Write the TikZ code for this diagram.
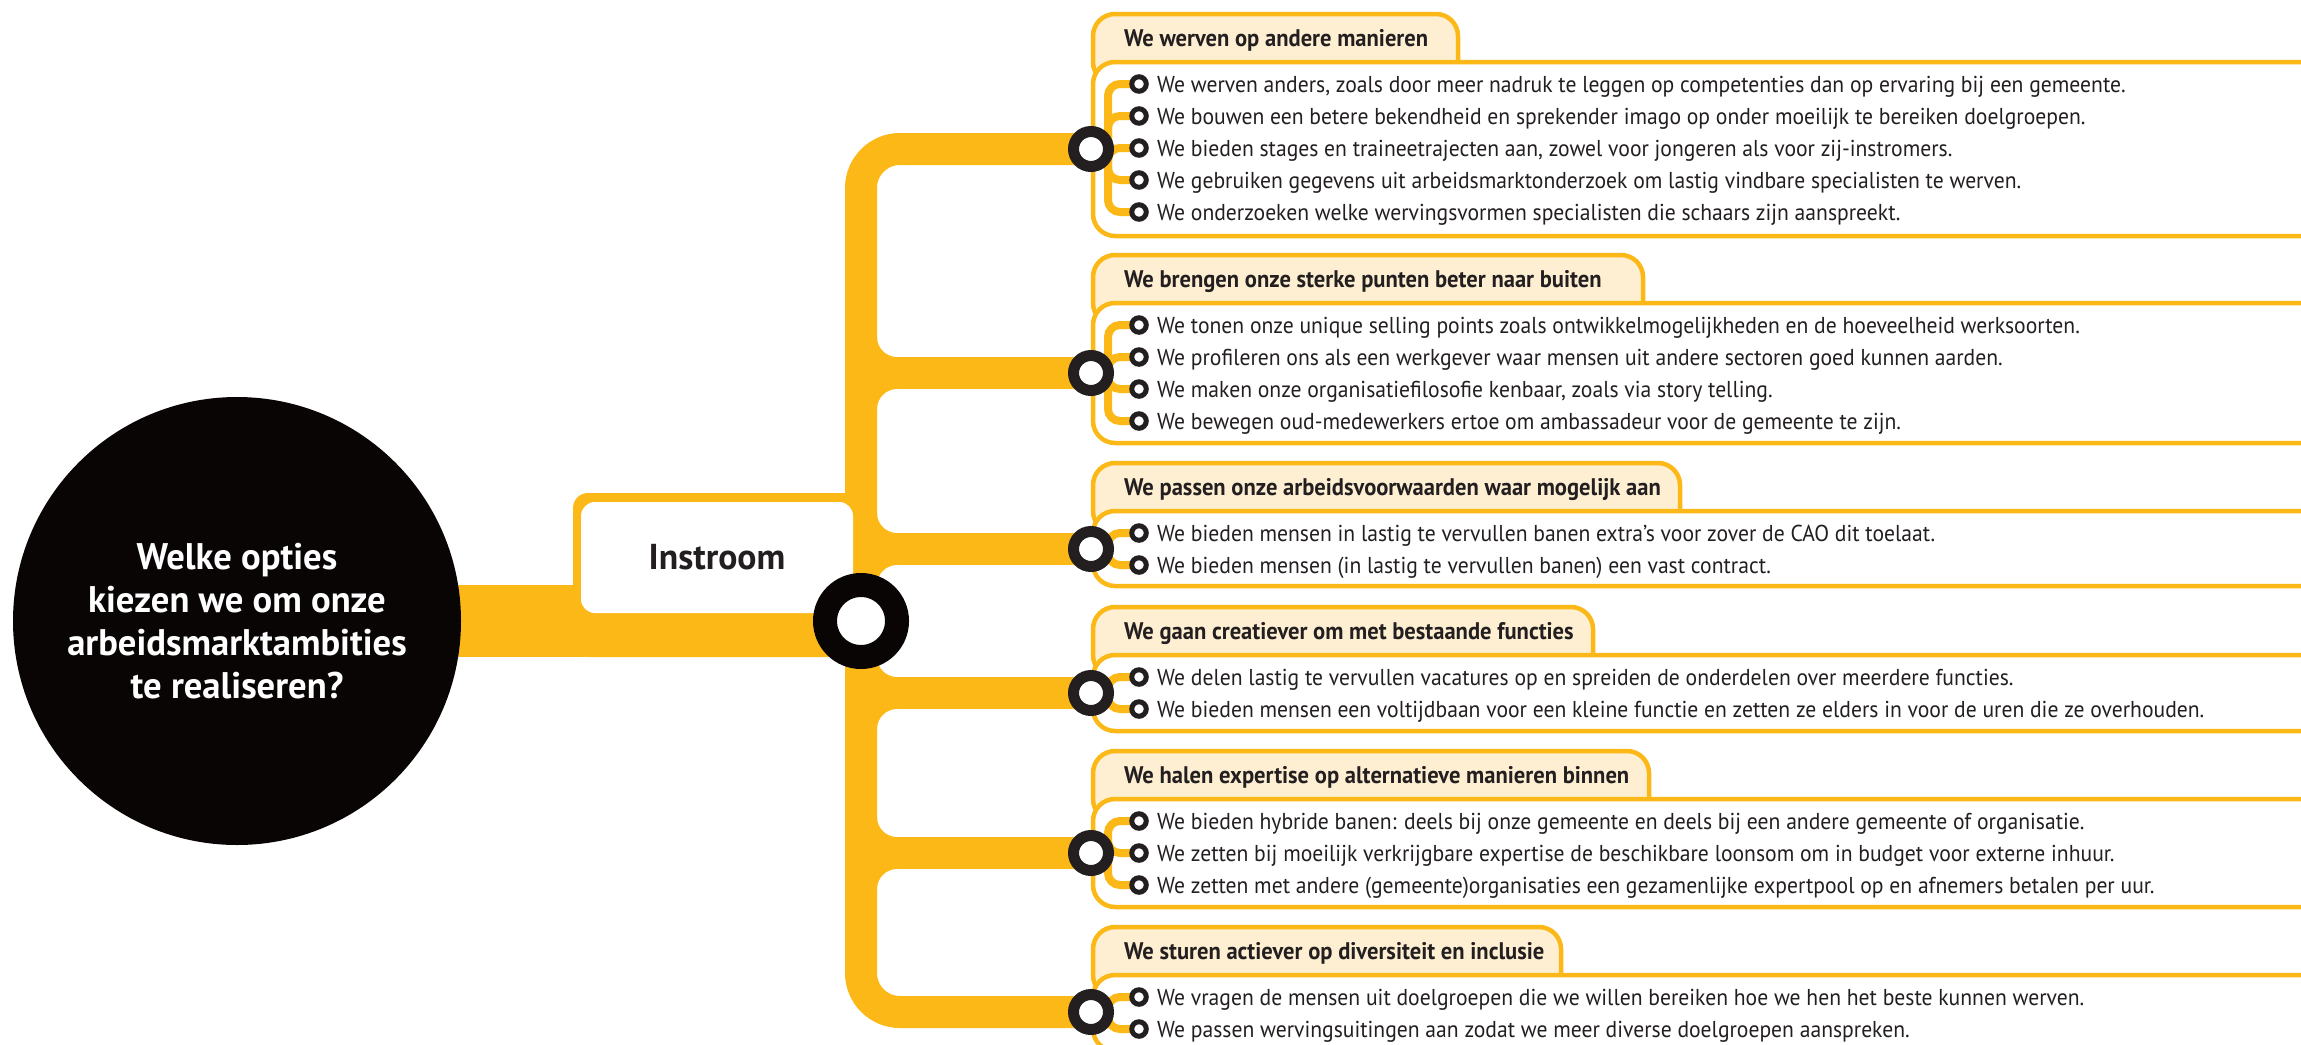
\documentclass[tikz,border=0pt]{standalone}
\usepackage{fontspec}
\setmainfont[FakeStretch=0.94]{PT Sans}
\newfontfamily\widefont[FakeStretch=0.99]{PT Sans}
\definecolor{ylw}{HTML}{FBB817}
\definecolor{crm}{HTML}{FEEFD2}
\definecolor{ink}{HTML}{231F20}
\definecolor{blk}{HTML}{0A0505}
\pgfdeclarelayer{l1}\pgfdeclarelayer{l2}\pgfdeclarelayer{l3}
\pgfsetlayers{l1,l2,l3,main}
\tikzset{
 trunk/.style={line width=32pt, draw=ylw},
 bracket/.style={line width=8pt, draw=ylw},
 ring/.style={circle, draw=ink, fill=white, line width=11pt, minimum size=35pt, inner sep=0pt},
 hubring/.style={circle, draw=blk, fill=white, line width=24pt, minimum size=72pt, inner sep=0pt},
 bullet/.style={circle, draw=ink, fill=white, line width=5pt, minimum size=14.5pt, inner sep=0pt},
 tabbox/.style={draw=ylw, fill=crm, line width=4.5pt, rounded corners=22pt},
 bodybox/.style={draw=ylw, fill=white, line width=4.5pt, rounded corners=22pt},
 rowtext/.style={anchor=base west, font=\fontsize{23}{27}\selectfont, text=ink, inner sep=0pt},
 headtext/.style={anchor=base west, font=\bfseries\fontsize{24}{28}\selectfont, text=ink, inner sep=0pt},
}
% #1 id, #2 tab top, #3 tab right, #4 body bottom, #5 node y, #6 header, #7 rows
\newcommand\grp[7]{%
 \begin{pgfonlayer}{l2}
  \draw[tabbox] (1093,#2) rectangle (#3,#2+70);
  \draw[bodybox] (1093,#2+48) rectangle (2340,#4);
 \end{pgfonlayer}
 \node[headtext] (h#1) at (1124,#2+32) {#6};
 \node[ring] (n#1) at (1091,#5) {};
 \coordinate (v#1) at (1108,#5);
 \foreach \t [count=\i] in {#7} {
   \pgfmathsetmacro\ry{#2+70+(\i-1)*32}
   \node[bullet] (b#1-\i) at (1139,\ry) {};
   \node[rowtext] (t#1-\i) at (1157,\ry+8) {\t};
   \begin{pgfonlayer}{l3}
     \draw[bracket, rounded corners=12pt] (v#1) |- (b#1-\i.center);
   \end{pgfonlayer}
 }
}
\newcommand\fil[1]{%
 \fill[ylw] (877,#1-36) -- (877,#1-16) -- (897,#1-16) arc[start angle=90, end angle=180, radius=20] -- cycle;
 \fill[ylw] (877,#1+36) -- (877,#1+16) -- (897,#1+16) arc[start angle=270, end angle=180, radius=20] -- cycle;
}
\begin{document}
\begin{tikzpicture}[x=1pt,y=-1pt]
\useasboundingbox (0,0) rectangle (2301,1044);
\clip (0,0) rectangle (2301,1044);

\grp{1}{14}{1458}{236}{149}{We werven op andere manieren}{%
 {We werven anders, zoals door meer nadruk te leggen op competenties dan op ervaring bij een gemeente.},
 {We bouwen een betere bekendheid en sprekender imago op onder moeilijk te bereiken doelgroepen.},
 {We bieden stages en traineetrajecten aan, zowel voor jongeren als voor zij-instromers.},
 {We gebruiken gegevens uit arbeidsmarktonderzoek om lastig vindbare specialisten te werven.},
 {We onderzoeken welke wervingsvormen specialisten die schaars zijn aanspreekt.}}
\grp{2}{255}{1643}{443}{373}{We brengen onze sterke punten beter naar buiten}{%
 {We tonen onze unique selling points zoals ontwikkelmogelijkheden en de hoeveelheid werksoorten.},
 {We profileren ons als een werkgever waar mensen uit andere sectoren goed kunnen aarden.},
 {We maken onze organisatiefilosofie kenbaar, zoals via story telling.},
 {We bewegen oud-medewerkers ertoe om ambassadeur voor de gemeente te zijn.}}
\grp{3}{463}{1680}{586}{549}{We passen onze arbeidsvoorwaarden waar mogelijk aan}{%
 {We bieden mensen in lastig te vervullen banen extra’s voor zover de CAO dit toelaat.},
 {We bieden mensen (in lastig te vervullen banen) een vast contract.}}
\grp{4}{607}{1593}{731}{693}{We gaan creatiever om met bestaande functies}{%
 {We delen lastig te vervullen vacatures op en spreiden de onderdelen over meerdere functies.},
 {We bieden mensen een voltijdbaan voor een kleine functie en zetten ze elders in voor de uren die ze overhouden.}}
\grp{5}{751}{1649}{907}{853}{We halen expertise op alternatieve manieren binnen}{%
 {We bieden hybride banen: deels bij onze gemeente en deels bij een andere gemeente of organisatie.},
 {We zetten bij moeilijk verkrijgbare expertise de beschikbare loonsom om in budget voor externe inhuur.},
 {We zetten met andere (gemeente)organisaties een gezamenlijke expertpool op en afnemers betalen per uur.}}
\grp{6}{927}{1561}{1051}{1012}{We sturen actiever op diversiteit en inclusie}{%
 {We vragen de mensen uit doelgroepen die we willen bereiken hoe we hen het beste kunnen werven.},
 {We passen wervingsuitingen aan zodat we meer diverse doelgroepen aanspreken.}}

% centre question
\node[circle, fill=blk, minimum size=448pt, inner sep=0pt, text=white, align=center,
      font=\widefont\bfseries\fontsize{37}{43}\selectfont] (q) at (237,621)
      {Welke opties\\kiezen we om onze\\arbeidsmarktambities\\te realiseren?};
% Instroom box
\begin{pgfonlayer}{l2}
 \fill[ylw, rounded corners=15pt] (573,493) rectangle (861,657);
\end{pgfonlayer}
\node[fill=white, rounded corners=14pt, minimum width=272pt, minimum height=111pt, inner sep=0pt,
      text=ink, font=\widefont\bfseries\fontsize{36}{40}\selectfont] (inst) at (717,557.5) {Instroom};
% hub
\node[hubring] (hub) at (861,621) {};

\begin{pgfonlayer}{l1}
 \draw[line width=72pt, ylw] (q.center) -- (hub.center);
 \draw[trunk, rounded corners=39pt] (n1.center) -| (hub.center) |- (n6.center);
 \draw[trunk] (hub.center |- n2.center) -- (n2.center);
 \draw[trunk] (hub.center |- n3.center) -- (n3.center);
 \draw[trunk] (hub.center |- n4.center) -- (n4.center);
 \draw[trunk] (hub.center |- n5.center) -- (n5.center);
 \fil{373}\fil{549}\fil{693}\fil{853}
\end{pgfonlayer}
\end{tikzpicture}
\end{document}
